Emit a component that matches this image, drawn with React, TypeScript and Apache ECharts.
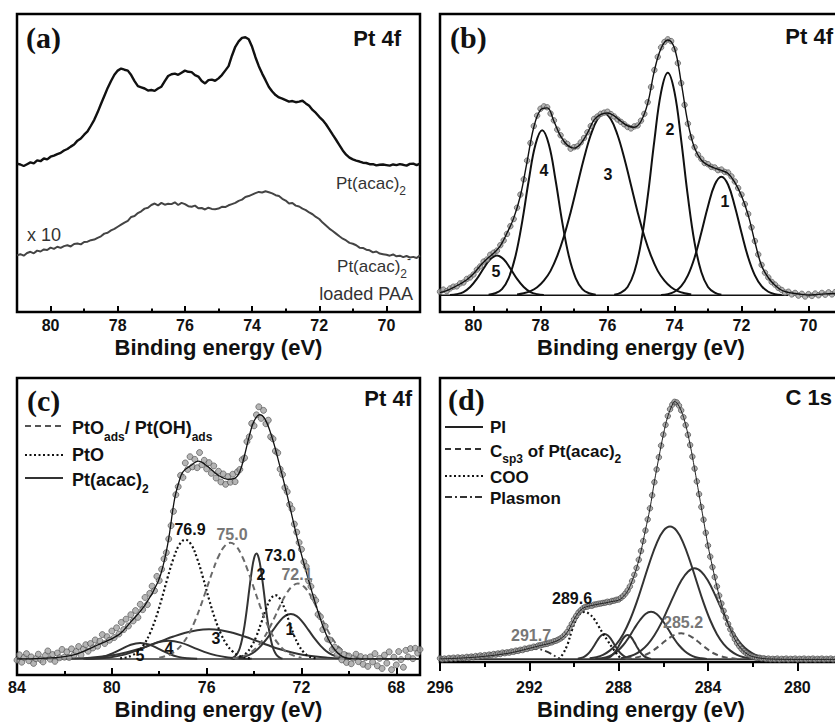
import React, { useEffect, useRef } from "react";
import * as echarts from "echarts";

// ---------------- Panel (a): Pt 4f raw spectra, 81.0 -> 69.0 eV, step 0.1 ----------------
const aStart = 81.0;
const aStep = 0.1;
const aPtAcac = [
  49.8, 49.5, 49.0, 49.6, 50.2, 49.9, 50.9, 50.6, 51.5, 51.2,
  52.1, 52.5, 53.0, 53.4, 54.2, 54.7, 55.5, 56.2, 57.5, 58.2,
  59.5, 60.6, 62.5, 64.5, 67.0, 69.8, 72.5, 75.2, 77.5, 79.6,
  81.0, 81.7, 81.3, 81.0, 79.5, 77.5, 75.8, 75.4, 75.0, 74.3,
  74.5, 74.2, 75.0, 75.6, 77.5, 79.2, 79.8, 80.0, 79.6, 80.3,
  81.0, 80.6, 80.5, 79.5, 79.0, 77.5, 76.7, 77.8, 78.0, 77.6,
  78.4, 79.5, 81.0, 82.5, 86.0, 89.0, 90.8, 92.0, 92.2, 91.5,
  89.0, 85.5, 82.5, 80.0, 77.8, 75.5, 74.0, 72.8, 72.0, 71.6,
  71.1, 70.6, 70.8, 70.4, 70.6, 70.9, 70.0, 69.2, 67.8, 66.8,
  65.5, 64.4, 63.0, 61.3, 59.5, 57.8, 56.0, 54.2, 52.8, 51.8,
  51.2, 50.8, 50.5, 50.1, 50.0, 49.6, 49.6, 49.2, 49.4, 49.5,
  49.3, 49.1, 49.5, 49.3, 49.6, 49.4, 49.1, 49.7, 49.8, 49.3,
  49.8,
];
const aLoaded = [
  19.0, 19.4, 18.9, 19.8, 20.2, 19.7, 20.6, 20.3, 21.0, 20.8,
  21.6, 21.2, 21.9, 21.5, 22.1, 22.4, 22.0, 22.8, 23.0, 22.7,
  23.5, 23.6, 24.1, 24.3, 24.9, 25.4, 26.3, 26.6, 27.4, 27.9,
  28.6, 29.3, 30.0, 30.6, 31.9, 32.2, 33.2, 33.8, 34.7, 35.0,
  35.9, 36.4, 35.8, 36.6, 36.0, 36.3, 36.2, 36.8, 35.9, 36.6,
  36.2, 35.5, 35.3, 35.7, 34.8, 34.9, 34.4, 35.0, 34.6, 34.5,
  34.7, 35.3, 35.2, 35.8, 36.2, 36.6, 37.3, 37.7, 38.6, 38.9,
  39.4, 39.9, 40.3, 40.1, 40.5, 40.2, 39.8, 39.2, 38.9, 38.0,
  37.4, 36.4, 36.6, 35.7, 35.4, 34.7, 34.2, 33.4, 32.8, 31.9,
  31.2, 30.0, 29.0, 28.0, 27.2, 26.3, 25.4, 24.6, 24.0, 23.2,
  22.9, 22.4, 21.6, 21.5, 20.9, 20.7, 20.0, 20.3, 19.6, 19.4,
  19.2, 18.9, 19.3, 18.7, 18.9, 18.4, 18.8, 18.3, 18.5, 18.1,
  19.0,
];
const aTicks = [70, 72, 74, 76, 78, 80];
const aMinor = [71, 73, 75, 77, 79];

// ---------------- Panel (b): fitted Pt 4f ----------------
const bDotsStart = 81.0;
const bDotsStep = 0.1;
const bDots = [
  6.8, 7.5, 7.0, 7.9, 8.5, 8.6, 9.6, 9.9, 11.1, 11.6,
  12.6, 14.2, 15.3, 16.9, 17.6, 19.2, 19.9, 20.6, 22.4, 24.0,
  26.2, 28.8, 31.2, 35.0, 39.4, 44.5, 50.8, 56.7, 62.4, 65.9,
  68.2, 69.0, 68.7, 66.6, 64.3, 61.2, 59.3, 57.2, 56.4, 54.8,
  55.3, 55.6, 56.9, 58.4, 60.3, 62.4, 64.8, 65.6, 66.5, 66.9,
  67.2, 66.4, 65.6, 64.6, 63.8, 63.0, 62.1, 61.6, 62.3, 62.6,
  64.2, 66.5, 70.4, 75.5, 81.2, 85.6, 88.8, 90.6, 91.5, 90.9,
  88.2, 83.5, 76.8, 69.5, 63.2, 58.6, 55.3, 52.8, 51.4, 50.0,
  49.6, 48.7, 48.5, 47.6, 47.8, 47.0, 46.8, 45.5, 43.8, 41.6,
  39.4, 36.2, 32.9, 28.4, 23.8, 19.3, 15.8, 13.2, 11.6, 10.1,
  9.2, 8.1, 7.4, 6.5, 6.8, 5.9, 6.4, 5.5, 6.1, 5.2,
  6.0, 5.4, 6.2, 5.6, 6.4, 5.8, 6.6, 5.9, 6.7, 6.0,
  6.5,
];
const bEnvStart = 81.0;
const bEnvStep = 0.2;
const bEnvelope = [
  6.5, 7.2, 8.2, 9.4, 10.8, 12.8, 15.5, 17.8, 19.7, 22.2,
  26.5, 31.5, 39.0, 50.5, 62.0, 67.8, 68.5, 64.0, 59.0, 56.0,
  55.0, 56.5, 60.0, 64.5, 66.3, 66.8, 65.8, 64.0, 62.5, 62.0,
  64.0, 70.0, 81.0, 88.5, 91.3, 88.5, 77.0, 63.5, 55.0, 51.0,
  49.3, 48.3, 47.5, 46.5, 43.5, 39.0, 32.5, 23.5, 15.5, 11.5,
  9.0, 7.3, 6.6, 6.2, 5.9, 5.7, 5.8, 6.0, 6.1, 6.2,
  6.2,
];
const bPeak1 = [[74.4,5.7],[74.2,6.0],[74.0,6.8],[73.8,8.7],[73.6,12.3],[73.4,18.3],[73.2,26.6],[73.0,35.5],[72.8,42.7],[72.6,45.4],[72.4,42.7],[72.2,35.5],[72.0,26.6],[71.8,18.3],[71.6,12.3],[71.4,8.7],[71.2,6.8],[71.0,6.0],[70.8,5.7]];
const bPeak2 = [[75.8,5.8],[75.6,6.5],[75.4,8.4],[75.2,13.4],[75.0,23.2],[74.8,38.7],[74.6,57.6],[74.4,73.8],[74.2,80.3],[74.0,73.8],[73.8,57.6],[73.6,38.7],[73.4,23.2],[73.2,13.4],[73.0,8.4],[72.8,6.5],[72.6,5.8]];
const bPeak3 = [[78.7,5.9],[78.5,6.3],[78.3,7.0],[78.1,8.3],[77.9,10.5],[77.7,13.8],[77.5,18.8],[77.3,25.4],[77.1,33.5],[76.9,42.6],[76.7,51.7],[76.5,59.4],[76.3,64.7],[76.1,66.6],[75.9,64.7],[75.7,59.4],[75.5,51.7],[75.3,42.6],[75.1,33.5],[74.9,25.4],[74.7,18.8],[74.5,13.8],[74.3,10.5],[74.1,8.3],[73.9,7.0],[73.7,6.3],[73.5,5.9]];
const bPeak4 = [[79.55,5.8],[79.35,6.3],[79.15,7.7],[78.95,11.4],[78.75,18.6],[78.55,30.1],[78.35,44.2],[78.15,56.2],[77.95,61.0],[77.75,56.2],[77.55,44.2],[77.35,30.1],[77.15,18.6],[76.95,11.4],[76.75,7.7],[76.55,6.3],[76.35,5.8]];
const bPeak5 = [[80.7,5.7],[80.5,6.0],[80.3,6.7],[80.1,8.4],[79.9,11.1],[79.7,14.6],[79.5,17.7],[79.3,19.0],[79.1,17.7],[78.9,14.6],[78.7,11.1],[78.5,8.4],[78.3,6.7],[78.1,6.0],[77.9,5.7]];
const bBaseline = [[81.0,5.6],[70.6,5.6]];
const bTicks = [70, 72, 74, 76, 78, 80];
const bMinor = [71, 73, 75, 77, 79];

// ---------------- Panel (c): fitted Pt 4f of loaded film ----------------
const cDotsStart = 84.0;
const cDotsStep = 0.1;
const cDots = [
  5.0, 6.8, 4.3, 5.9, 7.2, 4.8, 6.1, 3.9, 5.5, 7.0,
  5.2, 4.4, 6.6, 8.1, 5.3, 6.9, 4.6, 7.4, 5.8, 8.6,
  6.0, 7.8, 5.9, 8.8, 6.7, 7.9, 9.6, 6.8, 8.7, 10.2,
  8.0, 10.6, 9.1, 11.8, 9.7, 11.4, 13.6, 10.6, 12.9, 11.7,
  14.8, 12.6, 15.9, 13.8, 17.7, 15.3, 18.8, 16.5, 20.3, 18.2,
  21.7, 19.4, 23.8, 22.0, 26.1, 23.7, 27.5, 29.9, 28.4, 33.2,
  31.8, 35.6, 39.1, 41.2, 45.8, 50.3, 55.1, 60.7, 63.4, 67.2,
  66.5, 71.4, 69.2, 73.5, 70.1, 72.6, 69.8, 74.9, 70.8, 72.3,
  69.4, 71.5, 67.9, 70.4, 66.3, 68.6, 65.0, 67.7, 64.2, 66.8,
  64.9, 67.6, 65.1, 68.4, 69.2, 72.5, 73.1, 78.6, 80.2, 84.7,
  83.9, 87.6, 90.3, 86.4, 89.1, 84.6, 85.8, 80.2, 79.5, 75.4,
  74.8, 69.3, 67.5, 63.1, 61.7, 57.4, 55.9, 50.8, 48.1, 44.6,
  42.3, 38.1, 36.5, 31.7, 29.8, 26.2, 25.1, 20.4, 19.6, 15.3,
  16.4, 12.1, 11.8, 8.6, 9.4, 6.8, 8.2, 5.1, 6.9, 4.2,
  6.4, 3.8, 5.7, 7.0, 4.5, 6.2, 3.6, 5.8, 2.9, 6.1,
  4.4, 7.2, 3.1, 5.6, 2.2, 6.7, 4.0, 7.8, 1.8, 6.0,
  3.4, 7.9, 5.2, 2.6, 8.3, 6.1, 8.9, 5.5, 9.0, 7.4,
  8.6,
];
const cEnvelope = [[84,5.4],[83,5.6],[82,6.2],[81.4,7.3],[80.6,10.1],[79.7,13.6],[79.2,17.9],[78.6,23.5],[78.05,31.4],[77.8,38],[77.6,46],[77.35,59.4],[77.15,65.5],[77.0,68.4],[76.65,70.6],[76.36,72],[75.94,70.1],[75.52,67.3],[75.1,65.9],[74.8,66.3],[74.6,68.5],[74.4,74],[74.2,80.5],[74.0,85.5],[73.76,87.7],[73.55,86.3],[73.27,80.7],[72.92,70.6],[72.57,59.4],[72.14,44.8],[71.72,32.5],[71.3,21.3],[70.88,12.3],[70.46,7.3],[70.03,5.6],[69.5,5.4],[67,5.4]];
const cPtO_769 = [[79.65,5.6],[79.4,5.9],[79.15,6.6],[78.9,7.9],[78.65,10.2],[78.4,13.9],[78.15,19.0],[77.9,25.5],[77.65,32.7],[77.4,39.2],[77.15,43.9],[76.9,45.6],[76.65,43.9],[76.4,39.2],[76.15,32.7],[75.9,25.5],[75.65,19.0],[75.4,13.9],[75.15,10.2],[74.9,7.9],[74.65,6.6],[74.4,5.9],[74.15,5.6]];
const cPtO_730 = [[74.9,5.5],[74.7,5.8],[74.5,6.3],[74.3,7.6],[74.1,9.8],[73.9,13.1],[73.7,17.5],[73.5,22.1],[73.3,25.6],[73.1,26.9],[72.9,25.6],[72.7,22.1],[72.5,17.5],[72.3,13.1],[72.1,9.8],[71.9,7.6],[71.7,6.3],[71.5,5.8],[71.3,5.5]];
const cPtOads_750 = [[78.0,5.8],[77.75,6.3],[77.5,7.1],[77.25,8.5],[77.0,10.7],[76.75,13.8],[76.5,18.1],[76.25,23.3],[76.0,29.1],[75.75,34.9],[75.5,39.9],[75.25,43.3],[75.0,44.5],[74.75,43.3],[74.5,39.9],[74.25,34.9],[74.0,29.1],[73.75,23.3],[73.5,18.1],[73.25,13.8],[73.0,10.7],[72.75,8.5],[72.5,7.1],[72.25,6.3],[72.0,5.8]];
const cPtOads_721 = [[74.9,5.6],[74.65,5.9],[74.4,6.5],[74.15,7.6],[73.9,9.2],[73.65,11.7],[73.4,15.1],[73.15,19.1],[72.9,23.4],[72.65,27.2],[72.4,29.8],[72.15,30.8],[71.9,29.8],[71.65,27.2],[71.4,23.4],[71.15,19.1],[70.9,15.1],[70.65,11.7],[70.4,9.2],[70.15,7.6],[69.9,6.5],[69.65,5.9],[69.4,5.6]];
const cAcac1 = [[74.95,5.5],[74.7,5.7],[74.45,6.1],[74.2,6.8],[73.95,8.0],[73.7,9.9],[73.45,12.3],[73.2,15.1],[72.95,17.8],[72.7,19.8],[72.45,20.5],[72.2,19.8],[71.95,17.8],[71.7,15.1],[71.45,12.3],[71.2,9.9],[70.95,8.0],[70.7,6.8],[70.45,6.1],[70.2,5.7],[69.95,5.5]];
const cAcac2 = [[75.0,5.5],[74.9,5.8],[74.8,6.3],[74.7,7.3],[74.6,9.1],[74.5,12.2],[74.4,16.7],[74.3,22.4],[74.2,28.9],[74.1,34.9],[74.0,39.3],[73.9,40.9],[73.8,39.3],[73.7,34.9],[73.6,28.9],[73.5,22.4],[73.4,16.7],[73.3,12.2],[73.2,9.1],[73.1,7.3],[73.0,6.3],[72.9,5.8],[72.8,5.5]];
const cAcac3 = [[81.9,5.5],[81.4,5.6],[80.9,5.85],[80.4,6.2],[79.9,6.75],[79.4,7.6],[78.9,8.65],[78.4,10.0],[77.9,11.5],[77.4,12.95],[76.9,14.2],[76.4,15.1],[75.9,15.4],[75.4,15.1],[74.9,14.2],[74.4,12.95],[73.9,11.5],[73.4,10.0],[72.9,8.65],[72.4,7.6],[71.9,6.75],[71.4,6.2],[70.9,5.85],[70.4,5.6],[69.9,5.5]];
const cAcac4 = [[81.1,5.45],[80.6,5.55],[80.1,5.9],[79.6,6.6],[79.1,7.8],[78.6,9.4],[78.1,10.9],[77.6,11.5],[77.1,10.9],[76.6,9.4],[76.1,7.8],[75.6,6.6],[75.1,5.9],[74.6,5.55],[74.1,5.45]];
const cAcac5 = [[81.2,5.45],[80.8,5.6],[80.4,6.1],[80.0,7.2],[79.6,8.7],[79.2,10.2],[78.8,10.8],[78.4,10.2],[78.0,8.7],[77.6,7.2],[77.2,6.1],[76.8,5.6],[76.4,5.45]];
const cBaseline = [[84,5.4],[67,5.4]];
const cTicks = [68, 72, 76, 80, 84];
const cMinor = [70, 74, 78, 82];

// ---------------- Panel (d): fitted C 1s ----------------
const dDotsStart = 296.0;
const dDotsStep = 0.1;
const dDots = [
  1.3, 0.9, 1.2, 1.0, 1.4, 1.1, 1.5, 1.2, 1.6, 1.3,
  1.6, 1.4, 1.8, 1.5, 1.9, 1.7, 2.1, 1.8, 2.3, 2.0,
  2.4, 2.2, 2.6, 2.4, 2.8, 2.6, 3.0, 2.8, 3.3, 3.1,
  3.4, 3.3, 3.7, 3.6, 4.0, 3.9, 4.3, 4.2, 4.7, 4.6,
  5.0, 5.0, 5.4, 5.3, 5.8, 5.9, 6.1, 6.3, 6.4, 6.8,
  6.9, 7.3, 7.5, 7.9, 8.3, 8.9, 9.7, 10.6, 12.0, 13.4,
  15.0, 16.2, 17.4, 18.2, 18.9, 19.4, 19.5, 19.9, 19.8, 20.2,
  20.3, 20.5, 20.6, 20.8, 20.9, 21.2, 21.1, 21.5, 21.6, 21.9,
  22.0, 22.6, 23.2, 24.1, 25.2, 26.6, 28.5, 30.7, 33.1, 36.0,
  39.1, 42.6, 46.3, 50.2, 54.1, 58.7, 63.3, 67.8, 72.1, 76.2,
  80.1, 83.5, 86.6, 89.0, 90.6, 91.6, 91.4, 90.3, 88.6, 86.2,
  83.4, 80.0, 76.4, 72.3, 68.1, 63.6, 59.1, 54.6, 50.1, 45.5,
  41.0, 37.1, 33.4, 29.9, 26.6, 23.4, 20.6, 18.0, 15.6, 13.4,
  11.5, 9.7, 8.1, 6.7, 5.6, 4.6, 3.8, 3.2, 2.6, 2.2,
  1.9, 1.7, 1.4, 1.5, 1.2, 1.3, 1.0, 1.2, 0.9, 1.1,
  0.9, 1.2, 0.8, 1.1, 0.9, 1.2, 0.8, 1.1, 0.9, 1.2,
  0.8, 1.1, 0.9, 1.2, 0.8, 1.1, 0.9, 1.2, 0.8, 1.1,
  0.9, 1.2, 0.8, 1.1, 0.9, 1.2, 0.8, 1.1, 0.9, 1.2,
  0.9,
];
const dEnvelope = [[296,1.1],[295,1.4],[294,2.0],[293,3.0],[292.5,3.8],[292,4.8],[291.5,5.8],[291,6.8],[290.6,8.2],[290.3,10.5],[290.1,13.5],[289.9,16.3],[289.7,18.3],[289.5,19.3],[289.2,19.9],[288.9,20.4],[288.6,20.8],[288.3,21.3],[288,21.8],[287.8,23.0],[287.6,25.0],[287.4,28.5],[287.2,33.0],[287,39.0],[286.8,46.5],[286.6,54.0],[286.4,63.5],[286.2,72.0],[286,80.0],[285.8,86.5],[285.6,90.5],[285.5,91.7],[285.4,91.3],[285.2,88.5],[285,83.5],[284.8,76.5],[284.6,68.0],[284.4,59.0],[284.2,50.0],[284,41.0],[283.8,33.5],[283.6,26.5],[283.4,20.5],[283.2,15.5],[283,11.5],[282.8,8.0],[282.6,5.5],[282.4,3.8],[282.2,2.6],[282,1.9],[281.5,1.2],[281,1.0],[280,0.9],[278,0.9]];
const dPI_2857 = [[289.3,1.35],[289.0,1.7],[288.7,2.5],[288.4,4.0],[288.1,6.3],[287.8,9.8],[287.5,14.7],[287.2,20.9],[286.9,28.1],[286.6,35.4],[286.3,41.8],[286.0,46.2],[285.7,47.7],[285.4,46.2],[285.1,41.8],[284.8,35.4],[284.5,28.1],[284.2,20.9],[283.9,14.7],[283.6,9.8],[283.3,6.3],[283.0,4.0],[282.7,2.5],[282.4,1.7],[282.1,1.35]];
const dPI_2846 = [[287.9,1.35],[287.6,1.8],[287.3,2.6],[287.0,4.0],[286.7,6.2],[286.4,9.4],[286.1,13.6],[285.8,18.7],[285.5,23.9],[285.2,28.6],[284.9,31.8],[284.6,33.0],[284.3,31.8],[284.0,28.6],[283.7,23.9],[283.4,18.7],[283.1,13.6],[282.8,9.4],[282.5,6.2],[282.2,4.0],[281.9,2.6],[281.6,1.8],[281.3,1.35]];
const dPI_2866 = [[289.05,1.1],[288.8,1.3],[288.55,1.7],[288.3,2.5],[288.05,3.9],[287.8,5.9],[287.55,8.6],[287.3,11.8],[287.05,14.7],[286.8,16.9],[286.55,17.7],[286.3,16.9],[286.05,14.7],[285.8,11.8],[285.55,8.6],[285.3,5.9],[285.05,3.9],[284.8,2.5],[284.55,1.7],[284.3,1.3],[284.05,1.1]];
const dPI_2876 = [[288.65,1.1],[288.5,1.4],[288.35,2.0],[288.2,3.1],[288.05,4.9],[287.9,7.0],[287.75,8.8],[287.6,9.5],[287.45,8.8],[287.3,7.0],[287.15,4.9],[287.0,3.1],[286.85,2.0],[286.7,1.4],[286.55,1.1]];
const dPI_2886 = [[289.83,1.15],[289.68,1.4],[289.53,1.9],[289.38,2.8],[289.23,4.2],[289.08,6.0],[288.93,7.9],[288.78,9.3],[288.63,9.9],[288.48,9.3],[288.33,7.9],[288.18,6.0],[288.03,4.2],[287.88,2.8],[287.73,1.9],[287.58,1.4],[287.43,1.15]];
const dCsp3 = [[287.7,1.1],[287.45,1.3],[287.2,1.6],[286.95,2.1],[286.7,2.9],[286.45,4.1],[286.2,5.55],[285.95,7.2],[285.7,8.65],[285.45,9.7],[285.2,10.1],[284.95,9.7],[284.7,8.65],[284.45,7.2],[284.2,5.55],[283.95,4.1],[283.7,2.9],[283.45,2.1],[283.2,1.6],[282.95,1.3],[282.7,1.1]];
const dCOO = [[290.7,1.0],[290.5,2.8],[290.3,6.0],[290.1,11.0],[289.9,15.0],[289.7,17.2],[289.5,17.6],[289.3,16.8],[289.1,15.2],[288.9,12.6],[288.7,10.0],[288.5,7.6],[288.3,5.2],[288.1,3.0],[287.9,1.2]];
const dPlasmon = [[294.6,1.2],[294.2,1.6],[293.8,2.1],[293.4,2.8],[293.0,3.5],[292.6,4.2],[292.2,4.7],[291.9,4.8],[291.6,4.6],[291.3,3.9],[291.0,2.8],[290.8,1.8],[290.6,1.0]];
const dBaseline = [[296,1.0],[278,1.0]];
const dTicks = [280, 284, 288, 292, 296];
const dMinor = [282, 286, 290, 294];

// ---------------- helpers ----------------
const SANS = "'Liberation Sans', Arial, Helvetica, sans-serif";
const SERIF = "'Liberation Serif', 'Times New Roman', Times, serif";

function seq(start: number, step: number, vals: number[]) {
  return vals.map((v, i) => [Math.round((start - i * step) * 1000) / 1000, v]);
}

function makeXAxes(gi: number, min: number, max: number, major: number[], minor: number[], o: any) {
  return [
    {
      type: "value", gridIndex: gi, min, max, inverse: true, position: "bottom",
      name: "Binding energy (eV)", nameLocation: "middle", nameGap: o.nameGap, nameMoveOverlap: false,
      nameTextStyle: { fontFamily: SANS, fontWeight: "bold", fontSize: 22, color: "#111" },
      axisLine: { show: false }, splitLine: { show: false },
      axisTick: { show: true, inside: o.inside, length: o.tickLen, customValues: major, lineStyle: { color: "#000", width: 2 } },
      axisLabel: { show: true, customValues: major, margin: o.margin, fontFamily: SANS, fontWeight: "bold", fontSize: 16, color: "#111", hideOverlap: false },
    },
    {
      type: "value", gridIndex: gi, min, max, inverse: true, position: "bottom",
      axisLine: { show: false }, splitLine: { show: false }, axisLabel: { show: false },
      axisTick: { show: true, inside: o.inside, length: o.minorLen, customValues: minor, lineStyle: { color: "#000", width: 2 } },
    },
  ];
}

function line(gi: number, data: any[], color: string, width: number, type: any, smooth: any = 0.4, z = 2) {
  return {
    type: "line", xAxisIndex: gi * 2, yAxisIndex: gi, data, symbol: "none", showSymbol: false,
    smooth, silent: true, z, lineStyle: { color, width, type },
  };
}

function dots(gi: number, data: any[], size: number, fill = "#a3a3a3", edge = "#4a4a4a") {
  return {
    type: "scatter", xAxisIndex: gi * 2, yAxisIndex: gi, data, symbol: "circle", symbolSize: size,
    silent: true, z: 3, itemStyle: { color: fill, borderColor: edge, borderWidth: 0.8 },
  };
}

function txt(x: number, y: number, text: string, o: any = {}) {
  return {
    type: "text", x, y, z: 100, silent: true,
    style: {
      text, fill: o.color || "#111", fontFamily: o.family || SANS, fontWeight: o.weight || "bold",
      fontSize: o.size || 16, align: o.align || "center", verticalAlign: "middle",
      rich: o.rich,
    },
  };
}

function richSet(size: number, weight: string, color: string) {
  const lh = Math.round(size * 1.6);
  return {
    n: { fontFamily: SANS, fontWeight: weight, fontSize: size, lineHeight: lh, verticalAlign: "middle", fill: color, color },
    s: { fontFamily: SANS, fontWeight: weight, fontSize: Math.round(size * 0.68), lineHeight: lh, verticalAlign: "bottom", fill: color, color },
    p: { fontFamily: SANS, fontWeight: weight, fontSize: Math.round(size * 0.68), lineHeight: lh, verticalAlign: "top", fill: color, color },
  };
}

function key(x1: number, x2: number, y: number, color: string, width: number, dash: number[] | null) {
  return {
    type: "line", z: 100, silent: true,
    shape: { x1, y1: y, x2, y2: y },
    style: { stroke: color, lineWidth: width, lineDash: dash || undefined },
  };
}

const DASH = [6, 4];
const DOT = [2, 2.5];
const DASHDOT = [7, 3, 2, 3];

export default function App() {
  const ref = useRef<HTMLDivElement>(null);
  useEffect(() => {
    const chart = echarts.init(ref.current!, null, { renderer: "svg" });
    const gridBase = { show: true, borderColor: "#000", borderWidth: 2.5, backgroundColor: "rgba(0,0,0,0)", containLabel: false, outerBoundsMode: "none" };
    const option: any = {
      animation: false,
      backgroundColor: "#ffffff",
      grid: [
        { ...gridBase, left: 17, top: 14, width: 403, height: 298 },
        { ...gridBase, left: 440, top: 14, width: 402, height: 298 },
        { ...gridBase, left: 17, top: 378, width: 403, height: 297 },
        { ...gridBase, left: 440, top: 378, width: 402, height: 284 },
      ],
      xAxis: [
        ...makeXAxes(0, 69, 81, aTicks, aMinor, { inside: true, tickLen: 6, minorLen: 3.5, margin: 5, nameGap: 24 }),
        ...makeXAxes(1, 69, 81, bTicks, bMinor, { inside: true, tickLen: 6, minorLen: 3.5, margin: 5, nameGap: 24 }),
        ...makeXAxes(2, 67, 84, cTicks, cMinor, { inside: true, tickLen: 7, minorLen: 4, margin: 4, nameGap: 23 }),
        ...makeXAxes(3, 278, 296, dTicks, dMinor, { inside: false, tickLen: 9, minorLen: 5, margin: 17, nameGap: 36 }),
      ],
      yAxis: [0, 1, 2, 3].map((i) => ({ type: "value", gridIndex: i, min: 0, max: 100, show: false })),
      series: [
        // (a)
        line(0, seq(aStart, aStep, aPtAcac), "#111", 2.4, "solid", false, 2),
        line(0, seq(aStart, aStep, aLoaded), "#444", 2.0, "solid", false, 2),
        // (b)
        line(1, bBaseline, "#111", 1.6, "solid", false, 1),
        line(1, bPeak1, "#111", 2, "solid"),
        line(1, bPeak2, "#111", 2, "solid"),
        line(1, bPeak3, "#111", 2, "solid"),
        line(1, bPeak4, "#111", 2, "solid"),
        line(1, bPeak5, "#111", 2, "solid"),
        dots(1, seq(bDotsStart, bDotsStep, bDots), 5.5),
        line(1, seq(bEnvStart, bEnvStep, bEnvelope), "#111", 1.4, "solid", 0.4, 4),
        // (c)
        line(2, cBaseline, "#333", 1.6, "solid", false, 1),
        line(2, cAcac3, "#333", 2, "solid"),
        line(2, cAcac4, "#333", 2, "solid"),
        line(2, cAcac5, "#333", 2, "solid"),
        line(2, cAcac2, "#333", 2, "solid"),
        line(2, cAcac1, "#333", 2, "solid"),
        line(2, cPtO_769, "#111", 2.2, DOT),
        line(2, cPtO_730, "#111", 2.2, DOT),
        line(2, cPtOads_750, "#6a6a6a", 2, DASH),
        line(2, cPtOads_721, "#6a6a6a", 2, DASH),
        dots(2, seq(cDotsStart, cDotsStep, cDots), 6),
        line(2, cEnvelope, "#111", 1.3, "solid", 0.4, 4),
        // (d)
        line(3, dBaseline, "#333", 1.6, "solid", false, 1),
        line(3, dPI_2857, "#333", 2, "solid"),
        line(3, dPI_2846, "#333", 2, "solid"),
        line(3, dPI_2866, "#333", 2, "solid"),
        line(3, dPI_2876, "#333", 2, "solid"),
        line(3, dPI_2886, "#333", 2, "solid"),
        line(3, dCsp3, "#555", 2, DASH),
        line(3, dCOO, "#111", 2.2, DOT),
        line(3, dPlasmon, "#333", 1.8, DASHDOT),
        dots(3, seq(dDotsStart, dDotsStep, dDots), 5.5, "#9a9a9a", "#3c3c3c"),
        line(3, dEnvelope, "#222", 1, "solid", 0.4, 4),
      ],
      graphic: [
        // panel titles
        txt(26, 37, "(a)", { family: SERIF, size: 30, align: "left" }),
        txt(450, 37, "(b)", { family: SERIF, size: 30, align: "left" }),
        txt(27, 400, "(c)", { family: SERIF, size: 30, align: "left" }),
        txt(448, 399, "(d)", { family: SERIF, size: 30, align: "left" }),
        txt(401, 38, "Pt 4f", { size: 22, align: "right" }),
        txt(833, 36, "Pt 4f", { size: 22, align: "right" }),
        txt(412, 398, "Pt 4f", { size: 22, align: "right" }),
        txt(832, 397, "C 1s", { size: 22, align: "right" }),
        // (a) annotations
        txt(406, 183, "{n|Pt(acac)}{s|2}", { align: "right", weight: "normal", rich: richSet(17, "normal", "#333") }),
        txt(27, 235, "x 10", { align: "left", weight: "normal", size: 18, color: "#333" }),
        txt(411, 266, "{n|Pt(acac)}{s|2}{p|-}", { align: "right", weight: "normal", rich: richSet(17, "normal", "#333") }),
        txt(413, 294, "loaded PAA", { align: "right", weight: "normal", size: 18, color: "#333" }),
        // (b) peak numbers
        txt(725, 201, "1", { size: 16 }),
        txt(670, 129, "2", { size: 16 }),
        txt(608, 174, "3", { size: 16 }),
        txt(544, 170, "4", { size: 16 }),
        txt(496, 271, "5", { size: 16 }),
        // (c) legend
        key(25, 63, 426, "#555", 2, DASH),
        key(25, 63, 455, "#111", 2, DOT),
        key(25, 63, 478, "#333", 2, null),
        txt(72, 428, "{n|PtO}{s|ads}{n|/ Pt(OH)}{s|ads}", { align: "left", rich: richSet(18, "bold", "#111") }),
        txt(72, 455, "PtO", { align: "left", size: 18 }),
        txt(72, 480, "{n|Pt(acac)}{s|2}", { align: "left", rich: richSet(18, "bold", "#111") }),
        // (c) annotations
        txt(190, 529, "76.9", { size: 16 }),
        txt(232, 534, "75.0", { size: 16, color: "#777" }),
        txt(280, 555, "73.0", { size: 16 }),
        txt(297, 574, "72.1", { size: 16, color: "#777" }),
        txt(261, 574, "2", { size: 16 }),
        txt(290, 629, "1", { size: 16 }),
        txt(216, 638, "3", { size: 16 }),
        txt(169, 648, "4", { size: 16 }),
        txt(140, 655, "5", { size: 16 }),
        // (d) legend
        key(445, 483, 427, "#222", 2, null),
        key(445, 483, 449, "#333", 2, DASH),
        key(445, 483, 476, "#111", 2, DOT),
        key(445, 483, 497, "#333", 2, DASHDOT),
        txt(490, 427, "PI", { align: "left", size: 17 }),
        txt(490, 451, "{n|C}{s|sp3}{n| of Pt(acac)}{s|2}", { align: "left", rich: richSet(17, "bold", "#111") }),
        txt(490, 477, "COO", { align: "left", size: 17 }),
        txt(490, 498, "Plasmon", { align: "left", size: 17 }),
        // (d) annotations
        txt(572, 598, "289.6", { size: 16 }),
        txt(531, 635, "291.7", { size: 16, color: "#777" }),
        txt(683, 622, "285.2", { size: 16, color: "#777" }),
      ],
    };
    chart.setOption(option);
    return () => chart.dispose();
  }, []);
  return (
    <div style={{ position: "absolute", left: 0, top: 0, width: 835, height: 723, overflow: "hidden", background: "#fff" }}>
      <div ref={ref} style={{ width: 835, height: 723 }} />
    </div>
  );
}
